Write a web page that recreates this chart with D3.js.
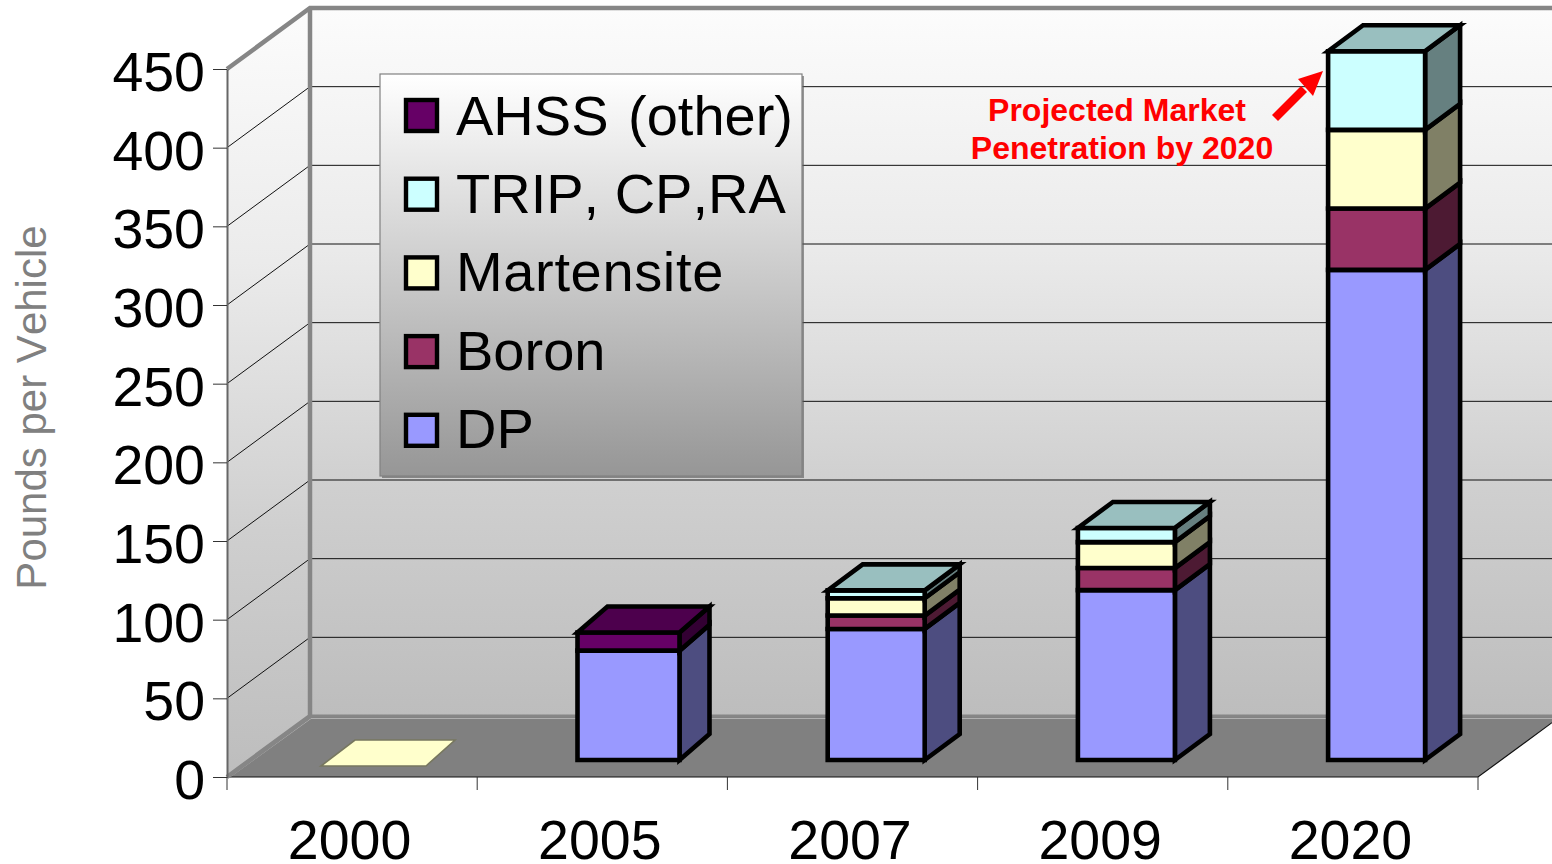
<!DOCTYPE html>
<html>
<head>
<meta charset="utf-8">
<script src="https://cdn.jsdelivr.net/npm/d3@7"></script>
<style>
  html, body { margin: 0; padding: 0; background: #fff; overflow: hidden; }
  svg { display: block; }
  text { font-family: "Liberation Sans", Arial, sans-serif; font-kerning: none; }
</style>
</head>
<body>
<svg id="chart" width="1552" height="864"></svg>
<script>
// values (pounds per vehicle)
var categories = ["2000", "2005", "2007", "2009", "2020"];
var dp         = [0, 69.5, 83.3, 108, 311.5];
var boron      = [0, 0, 8.5, 14, 39];
var martensite = [0, 0, 11, 16.5, 50];
var trip       = [0, 0, 5, 9, 50];
var ahss       = [0, 11.5, 0, 0, 0];

var seriesNames = ["DP", "Boron", "Martensite", "TRIP, CP,RA", "AHSS (other)"];
var seriesValues = [dp, boron, martensite, trip, ahss];
var seriesColors = ["#9999ff", "#993366", "#ffffcc", "#ccffff", "#660066"];
var legendOrder = ["AHSS (other)", "TRIP, CP,RA", "Martensite", "Boron", "DP"];
var yTicks = [0, 50, 100, 150, 200, 250, 300, 350, 400, 450];

var svg = d3.select("#chart");
var width = +svg.attr("width");

var x = d3.scaleBand().domain(categories).range([227, 1478]);
var y = d3.scaleLinear().domain([0, 450]).range([777, 69]);
var color = d3.scaleOrdinal().domain(seriesNames).range(seriesColors);

// box depth of the chart
var depthX = 83, depthY = -61;
var line = d3.line();

function shade(c, k) {
  var r = d3.rgb(c);
  return d3.rgb(r.r * k, r.g * k, r.b * k).formatHex();
}

// gradients
var defs = svg.append("defs");
function gradient(id, stops) {
  var g = defs.append("linearGradient").attr("id", id)
    .attr("x1", 0).attr("y1", 0).attr("x2", 0).attr("y2", 1);
  stops.forEach(function(s) {
    g.append("stop").attr("offset", s[0]).attr("stop-color", s[1]);
  });
}
gradient("wall", [[0, "#fcfcfc"], [0.33, "#ebebeb"], [0.68, "#cfcfcf"], [1, "#bdbdbd"]]);
gradient("legendFill", [[0, "#ffffff"], [1, "#969696"]]);

// WALLS
var yTop = y(450), yBase = y(0), xLeft = x.range()[0], xRight = x.range()[1];
var wallTop = yTop + depthY, wallBase = yBase + depthY, wallLeft = xLeft + depthX;

svg.append("path")
  .attr("d", line([[wallLeft, wallTop], [width, wallTop], [width, wallBase], [wallLeft, wallBase]]) + "Z")
  .attr("fill", "url(#wall)");
svg.append("path")
  .attr("d", line([[xLeft, yTop], [wallLeft, wallTop], [wallLeft, wallBase], [xLeft, yBase]]) + "Z")
  .attr("fill", "url(#wall)");

// gridlines on the back and left wall
var grid = svg.append("g").attr("fill", "none").attr("stroke", "#111").attr("stroke-width", 1);
yTicks.filter(function(t) { return t > 0 && t < 450; }).forEach(function(t) {
  grid.append("path").attr("d", line([[xLeft, y(t)], [wallLeft, y(t) + depthY], [width, y(t) + depthY]]));
});

// floor
var floorDx = width - xRight;
svg.append("path")
  .attr("d", line([[xLeft, yBase], [wallLeft, wallBase], [width, wallBase], [width, yBase + depthY * floorDx / depthX], [xRight, yBase]]) + "Z")
  .attr("fill", "#808080");
svg.append("path")
  .attr("d", line([[xLeft + 3, yBase], [wallLeft + 1, wallBase + 2.5], [width, wallBase + 2.5]]))
  .attr("fill", "none").attr("stroke", "#b0b0b0").attr("stroke-width", 1);
svg.append("path")
  .attr("d", line([[xLeft, yBase], [xRight, yBase], [width, yBase + depthY * floorDx / depthX]]))
  .attr("fill", "none").attr("stroke", "#111").attr("stroke-width", 1.2);

// thick grey frame of the walls
svg.append("path")
  .attr("d", line([[xLeft, yTop], [wallLeft, wallTop], [width, wallTop]]))
  .attr("fill", "none").attr("stroke", "#868686").attr("stroke-width", 4.5);
svg.append("path")
  .attr("d", line([[wallLeft, wallTop], [wallLeft, wallBase], [xLeft, yBase]]))
  .attr("fill", "none").attr("stroke", "#868686").attr("stroke-width", 4.5);
svg.append("path")
  .attr("d", line([[wallLeft, wallBase], [width, wallBase]]))
  .attr("fill", "none").attr("stroke", "#868686").attr("stroke-width", 3);

// AXES
var yAxis = svg.append("g")
  .attr("transform", "translate(" + xLeft + ",0)")
  .call(d3.axisLeft(y).tickValues(yTicks).tickSize(14).tickSizeOuter(0).tickPadding(8));
yAxis.select(".domain").attr("stroke", "#666").attr("stroke-width", 2);
yAxis.selectAll(".tick line").attr("stroke", "#333").attr("stroke-width", 1);
yAxis.selectAll(".tick text")
  .attr("fill", "#000").attr("font-size", 55.5).attr("font-family", "Liberation Sans")
  .attr("dy", "0.385em");

var xAxis = svg.append("g")
  .attr("transform", "translate(-2.5," + yBase + ")")
  .call(d3.axisBottom(x).tickSize(0).tickPadding(43));
xAxis.select(".domain").remove();
xAxis.selectAll(".tick text")
  .attr("fill", "#000").attr("font-size", 55.5).attr("font-family", "Liberation Sans");

// x axis ticks sit on the band edges, not the centres
svg.append("g").selectAll("line")
  .data(categories.concat("end"))
  .enter().append("line")
  .attr("x1", function(d) { return d === "end" ? xRight : x(d); })
  .attr("x2", function(d) { return d === "end" ? xRight : x(d); })
  .attr("y1", yBase).attr("y2", yBase + 13)
  .attr("stroke", "#333").attr("stroke-width", 1);

// BARS
var barOffset = 100.3, barWidth = 97, barDepthX = 35, barDepthY = -26, barLift = -17;

var stack = d3.stack()
  .keys(d3.range(seriesNames.length))
  .value(function(d, k) { return seriesValues[k][categories.indexOf(d)]; });
var layers = stack(categories);

var bars = svg.append("g").attr("stroke", "#000").attr("stroke-width", 4.6);

categories.forEach(function(cat, i) {
  var total = d3.sum(seriesValues, function(s) { return s[i]; });
  var left = x(cat) + barOffset;

  // 2000 has nothing in it, the original leaves a flat sliver on the floor
  if (total === 0) {
    var b = y(0) - 11;
    svg.append("path")
      .attr("d", line([[x(cat) + 94, b], [x(cat) + 199, b], [x(cat) + 228, b + barDepthY], [x(cat) + 128, b + barDepthY]]) + "Z")
      .attr("fill", color("Martensite")).attr("stroke", "#77775f").attr("stroke-width", 1.6);
    return;
  }

  // the 2005 bar is a little wider and shallower in the original
  var w = cat === "2005" ? 102 : barWidth;
  var dx = cat === "2005" ? 30 : barDepthX;
  var right = left + w;
  var topColor = null, topY = null;

  layers.forEach(function(layer, k) {
    var v0 = layer[i][0], v1 = layer[i][1];
    if (v1 <= v0) return;
    var c = seriesColors[k];
    var y0 = y(v0) + barLift, y1 = y(v1) + barLift;
    // side face
    bars.append("path")
      .attr("d", line([[right, y0], [right + dx, y0 + barDepthY], [right + dx, y1 + barDepthY], [right, y1]]) + "Z")
      .attr("fill", shade(c, 0.5));
    // front face
    bars.append("path")
      .attr("d", line([[left, y0], [right, y0], [right, y1], [left, y1]]) + "Z")
      .attr("fill", c);
    topColor = c;
    topY = y1;
  });

  bars.append("path")
    .attr("d", line([[left, topY], [right, topY], [right + dx, topY + barDepthY], [left + dx, topY + barDepthY]]) + "Z")
    .attr("fill", shade(topColor, 0.75));
});

// LEGEND
var legendX = 380, legendY = 74, legendW = 422, legendH = 402, legendStep = 78.7;
svg.append("rect")
  .attr("x", legendX + 2).attr("y", legendY + 2).attr("width", legendW).attr("height", legendH)
  .attr("fill", "#555").attr("opacity", 0.6);
svg.append("rect")
  .attr("x", legendX).attr("y", legendY).attr("width", legendW).attr("height", legendH)
  .attr("fill", "url(#legendFill)").attr("stroke", "#808080").attr("stroke-width", 1.2);

var legendItem = svg.append("g").selectAll("g")
  .data(legendOrder)
  .enter().append("g")
  .attr("transform", function(d, i) { return "translate(" + legendX + "," + (legendY + i * legendStep) + ")"; });
legendItem.append("rect")
  .attr("x", 26).attr("y", 26).attr("width", 31).attr("height", 31)
  .attr("fill", function(d) { return color(d); })
  .attr("stroke", "#000").attr("stroke-width", 4.4);
// the labels run on a slightly tighter step than the swatches
legendItem.append("text")
  .attr("x", 76)
  .attr("y", function(d, i) { return 61 - i * 0.45; })
  .attr("font-size", 56)
  .attr("word-spacing", function(d) { return d === "AHSS (other)" ? 4 : 0; })
  .attr("letter-spacing", function(d) { return d === "Martensite" ? 0.65 : 0; })
  .attr("fill", "#000")
  .text(function(d) { return d; });

// Y TITLE
svg.append("text")
  .attr("transform", "translate(46,407.5) rotate(-90)")
  .attr("text-anchor", "middle")
  .attr("font-size", 42)
  .attr("fill", "#808080")
  .text("Pounds per Vehicle");

// ANNOTATION
var note = svg.append("g")
  .attr("text-anchor", "middle")
  .attr("font-size", 32)
  .attr("font-weight", "bold")
  .attr("fill", "#ff0000");
note.append("text").attr("x", 1117).attr("y", 121).text("Projected Market");
note.append("text").attr("x", 1122).attr("y", 159).text("Penetration by 2020");

svg.append("path")
  .attr("d", line([[1275, 118], [1304, 89]]))
  .attr("stroke", "#ff0000").attr("stroke-width", 8.5).attr("fill", "none");
svg.append("path")
  .attr("d", line([[1323, 71], [1298, 79], [1313, 96]]) + "Z")
  .attr("fill", "#ff0000");
</script>
</body>
</html>
